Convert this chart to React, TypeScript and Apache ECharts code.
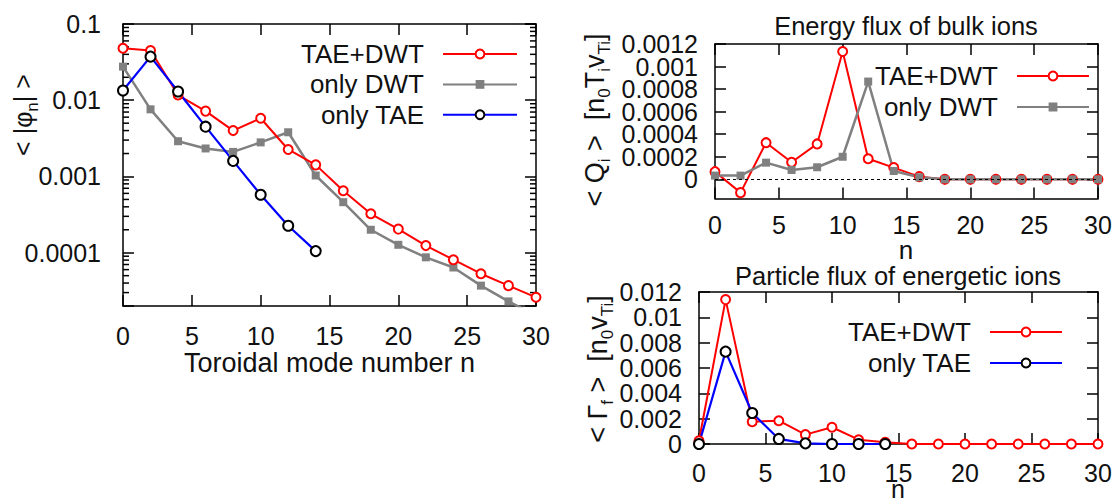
import React, { useEffect, useRef } from 'react';
import * as echarts from 'echarts';

// ---------- data ----------
const nAll = [0, 2, 4, 6, 8, 10, 12, 14, 16, 18, 20, 22, 24, 26, 28, 30];
const nTae = [0, 2, 4, 6, 8, 10, 12, 14];

// left: < |phi_n| >  (log scale)
const phiTaeDwt = [0.048, 0.045, 0.0117, 0.0072, 0.004, 0.0058, 0.00226, 0.00142, 0.00065, 0.000324, 0.000204, 0.000124, 0.000081, 0.000053, 0.000037, 0.000026];
const phiOnlyDwt = [0.0276, 0.0076, 0.0029, 0.00233, 0.0021, 0.0028, 0.0038, 0.00103, 0.00046, 0.0002, 0.000127, 0.000087, 0.000064, 0.000037, 0.000023, 0.000015];
const phiOnlyTae = [0.0134, 0.0373, 0.013, 0.0045, 0.0016, 0.000575, 0.000226, 0.000105];
const phiTicks = [0.0001, 0.001, 0.01, 0.1];
const phiTickLabels = ['0.0001', '0.001', '0.01', '0.1'];

// top right: energy flux of bulk ions
const qTaeDwt = [0.000068, -0.000118, 0.000325, 0.000151, 0.000314, 0.001133, 0.000183, 0.000104, 0.000024, 0, 0, 0, 0, 0, 0, 0];
const qOnlyDwt = [0.000033, 0.000033, 0.000148, 0.000083, 0.000107, 0.0002, 0.000867, 0.000074, 0.000018, 0, 0, 0, 0, 0, 0, 0];
const qTicks = [0, 0.0002, 0.0004, 0.0006, 0.0008, 0.001, 0.0012];
const qTickLabels = ['0', '0.0002', '0.0004', '0.0006', '0.0008', '0.001', '0.0012'];
const qTicksEven = [0, 0.0004, 0.0008, 0.0012];
const qTicksOdd = [0.0002, 0.0006, 0.001];

// bottom right: particle flux of energetic ions
const gTaeDwt = [0.00026, 0.0114, 0.00176, 0.00184, 0.00074, 0.00132, 0.00034, 0.00013, 0, 0, 0, 0, 0, 0, 0, 0];
const gOnlyTae = [0, 0.00729, 0.00245, 0.0004, 0.00005, 0, 0, 0];
const gTicks = [0, 0.002, 0.004, 0.006, 0.008, 0.01, 0.012];
const gTickLabels = ['0', '0.002', '0.004', '0.006', '0.008', '0.01', '0.012'];

const xTicks = [0, 5, 10, 15, 20, 25, 30];

// ---------- styles ----------
const FONT = "'Liberation Sans', Arial, Helvetica, sans-serif";
const INK = '#111';
const RED = '#ff0000';
const GRAY = '#808080';
const BLUE = '#0000ff';

const pick = (ticks: number[], labels: string[]) => (v: number) => {
  for (let i = 0; i < ticks.length; i++) {
    if (ticks[i] === 0 ? Math.abs(v) < 1e-12 : Math.abs(v / ticks[i] - 1) < 1e-6) return labels[i];
  }
  return '';
};

const lineAx = { show: true, onZero: false, lineStyle: { color: '#000', width: 1.5 } };
const tickIn = { show: true, inside: true, length: 11, lineStyle: { color: '#000', width: 1.5 } };
const labelBase = {
  fontSize: 25, fontFamily: FONT, color: INK, lineHeight: 18, interval: 0,
  showMinLabel: true, showMaxLabel: true, hideOverlap: false,
};

function xAxes(grid: number, margin: number) {
  return [
    {
      type: 'value', gridIndex: grid, position: 'bottom', min: 0, max: 30, interval: 5,
      axisLine: lineAx, axisTick: tickIn, splitLine: { show: false },
      axisLabel: { ...labelBase, lineHeight: 25, show: true, margin, formatter: pick(xTicks, xTicks.map(String)) },
    },
    {
      type: 'value', gridIndex: grid, position: 'top', min: 0, max: 30, interval: 5,
      axisLine: lineAx, axisTick: tickIn, splitLine: { show: false }, axisLabel: { show: false },
    },
  ];
}

const seriesRed = (xi: number, yi: number, xs: number[], ys: number[], extra: any = {}) => ({
  type: 'line', name: 'TAE+DWT', xAxisIndex: xi, yAxisIndex: yi,
  data: xs.map((n, i) => [n, ys[i]]),
  symbol: 'emptyCircle', symbolSize: 9, showAllSymbol: true,
  lineStyle: { color: RED, width: 2 },
  itemStyle: { color: RED, borderColor: RED, borderWidth: 2 },
  ...extra,
});
const seriesGray = (xi: number, yi: number, xs: number[], ys: number[]) => ({
  type: 'line', name: 'only DWT', xAxisIndex: xi, yAxisIndex: yi,
  data: xs.map((n, i) => [n, ys[i]]),
  symbol: 'rect', symbolSize: 8, showAllSymbol: true,
  lineStyle: { color: GRAY, width: 2.5 },
  itemStyle: { color: GRAY },
});
const seriesBlue = (xi: number, yi: number, xs: number[], ys: number[]) => ({
  type: 'line', name: 'only TAE', xAxisIndex: xi, yAxisIndex: yi,
  data: xs.map((n, i) => [n, ys[i]]),
  symbol: 'emptyCircle', symbolSize: 10, showAllSymbol: true,
  lineStyle: { color: BLUE, width: 2.2 },
  itemStyle: { color: '#000', borderColor: '#000', borderWidth: 2 },
});

const legendBase = {
  orient: 'vertical', align: 'right', itemWidth: 72, itemHeight: 11, itemGap: 5, padding: 0,
  selectedMode: false,
  textStyle: { fontSize: 26, fontFamily: FONT, color: INK, padding: [0, 14, 0, 0] },
};

// minor ticks of the log axis (2..9 x 10^k)
const logMinor: number[][] = [];
for (let k = -5; k <= -2; k++) {
  for (let m = 2; m <= 9; m++) {
    const v = m * Math.pow(10, k);
    if (v > 2.05e-5 && v < 0.1) logMinor.push([0, v]);
  }
}

const subRich = { s: { fontSize: 17, lineHeight: 17, verticalAlign: 'bottom', fontFamily: FONT, fill: INK } };

const qRange = { min: -0.00017, max: 0.0012 };

export default function App() {
  const ref = useRef<HTMLDivElement>(null);
  useEffect(() => {
    if (!ref.current) return;
    const chart = echarts.init(ref.current, undefined, { renderer: 'svg' });
    const option: any = {
      animation: false,
      backgroundColor: '#fff',
      grid: [
        { left: 123, top: 24, width: 413, height: 282 },
        { left: 715, top: 44, width: 383, height: 154.5 },
        { left: 699, top: 292, width: 399, height: 152 },
      ],
      xAxis: [...xAxes(0, 17), ...xAxes(1, 14), ...xAxes(2, 16)],
      yAxis: [
        {
          type: 'log', logBase: 10, gridIndex: 0, position: 'left', min: 2e-5, max: 0.1,
          axisLine: lineAx, axisTick: tickIn, splitLine: { show: false }, minorTick: { show: false },
          axisLabel: { ...labelBase, margin: 22, formatter: pick(phiTicks, phiTickLabels) },
        },
        {
          type: 'log', logBase: 10, gridIndex: 0, position: 'right', min: 2e-5, max: 0.1,
          axisLine: lineAx, axisTick: tickIn, splitLine: { show: false }, axisLabel: { show: false },
        },
        {
          type: 'value', gridIndex: 1, position: 'left', ...qRange,
          axisLine: lineAx, axisTick: { ...tickIn, customValues: qTicks }, splitLine: { show: false },
          axisLabel: { ...labelBase, margin: 17, customValues: qTicksEven, formatter: pick(qTicks, qTickLabels) },
        },
        {
          type: 'value', gridIndex: 1, position: 'right', ...qRange,
          axisLine: lineAx, axisTick: { ...tickIn, customValues: qTicks }, splitLine: { show: false }, axisLabel: { show: false },
        },
        {
          type: 'value', gridIndex: 2, position: 'left', min: 0, max: 0.012, interval: 0.002,
          axisLine: lineAx, axisTick: tickIn, splitLine: { show: false },
          axisLabel: { ...labelBase, margin: 17, formatter: pick(gTicks, gTickLabels) },
        },
        {
          type: 'value', gridIndex: 2, position: 'right', min: 0, max: 0.012, interval: 0.002,
          axisLine: lineAx, axisTick: tickIn, splitLine: { show: false }, axisLabel: { show: false },
        },
        {
          type: 'value', gridIndex: 1, position: 'left', offset: 0, ...qRange,
          axisLine: { show: false, onZero: false }, axisTick: { show: false }, splitLine: { show: false },
          axisLabel: { ...labelBase, margin: 17, customValues: qTicksOdd, formatter: pick(qTicks, qTickLabels) },
        },
      ],
      legend: [
        { ...legendBase, data: ['TAE+DWT', 'only DWT', 'only TAE'], right: 1117 - 518, top: 41, itemGap: 4.4, itemWidth: 74 },
        { ...legendBase, data: ['TAE+DWT', 'only DWT'], right: 1117 - 1090, top: 63 },
        { ...legendBase, data: ['TAE+DWT', 'only TAE'], right: 1117 - 1063, top: 319 },
      ],
      series: [
        {
          type: 'custom', name: 'minor', xAxisIndex: 0, yAxisIndex: 0, silent: true, clip: false,
          data: logMinor,
          renderItem: (_p: any, api: any) => {
            const v = api.value(1);
            const a = api.coord([0, v]);
            const b = api.coord([30, v]);
            const st = { stroke: '#000', lineWidth: 1.5 };
            return {
              type: 'group',
              children: [
                { type: 'line', shape: { x1: a[0], y1: a[1], x2: a[0] + 6, y2: a[1] }, style: st },
                { type: 'line', shape: { x1: b[0] - 6, y1: b[1], x2: b[0], y2: b[1] }, style: st },
              ],
            };
          },
        },
        seriesGray(0, 0, nAll, phiOnlyDwt),
        seriesRed(0, 0, nAll, phiTaeDwt),
        seriesBlue(0, 0, nTae, phiOnlyTae),
        seriesRed(2, 2, nAll, qTaeDwt, {
          markLine: {
            silent: true, symbol: ['none', 'none'], label: { show: false },
            lineStyle: { color: '#000', type: [3, 3], width: 1 },
            data: [{ yAxis: 0 }],
          },
        }),
        seriesGray(2, 2, nAll, qOnlyDwt),
        seriesRed(4, 4, nAll, gTaeDwt),
        seriesBlue(4, 4, nTae, gOnlyTae),
      ],
      graphic: {
        elements: [
          { type: 'text', x: 329.5, y: 362.7, style: { text: 'Toroidal mode number n', fontSize: 27, fontFamily: FONT, fill: INK, align: 'center', verticalAlign: 'middle' } },
          { type: 'text', x: 906, y: 26, style: { text: 'Energy flux of bulk ions', fontSize: 25.5, fontFamily: FONT, fill: INK, align: 'center', verticalAlign: 'middle' } },
          { type: 'text', x: 906, y: 250, style: { text: 'n', fontSize: 26, lineHeight: 20, fontFamily: FONT, fill: INK, align: 'center', verticalAlign: 'middle' } },
          { type: 'text', x: 898, y: 276, style: { text: 'Particle flux of energetic ions', fontSize: 25.5, fontFamily: FONT, fill: INK, align: 'center', verticalAlign: 'middle' } },
          { type: 'text', x: 898, y: 489, style: { text: 'n', fontSize: 25, lineHeight: 20, fontFamily: FONT, fill: INK, align: 'center', verticalAlign: 'middle' } },
          {
            type: 'text', x: 23, y: 115, rotation: Math.PI / 2,
            style: { text: '< |φ{s|n}| >', rich: subRich, fontSize: 25, lineHeight: 35, fontFamily: FONT, fill: INK, align: 'center', verticalAlign: 'middle' },
          },
          {
            type: 'text', x: 595, y: 120, rotation: Math.PI / 2,
            style: { text: '< Q{s|i} >  [n{s|0}T{s|i}v{s|Ti}]', rich: subRich, fontSize: 27, lineHeight: 35, fontFamily: FONT, fill: INK, align: 'center', verticalAlign: 'middle' },
          },
          {
            type: 'text', x: 598, y: 369, rotation: Math.PI / 2,
            style: { text: '< Γ{s|f} >  [n{s|0}v{s|Ti}]', rich: subRich, fontSize: 27, lineHeight: 35, fontFamily: FONT, fill: INK, align: 'center', verticalAlign: 'middle' },
          },
        ],
      },
    };
    chart.setOption(option);
    return () => chart.dispose();
  }, []);
  return (
    <div
      ref={ref}
      style={{ position: 'fixed', left: 0, top: 0, width: 1117, height: 504, background: '#fff' }}
    />
  );
}
